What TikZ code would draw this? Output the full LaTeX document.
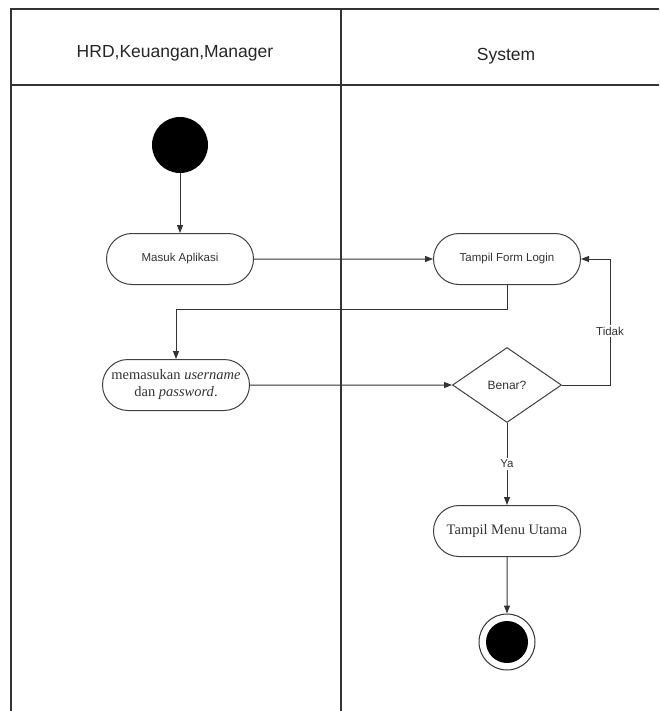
\documentclass[tikz,border=0pt]{standalone}
\usepackage{fontspec}
\setmainfont{Liberation Serif}
\newfontfamily\arialfont{Liberation Sans}
\usetikzlibrary{arrows.meta,shapes.geometric,shapes.misc}
\begin{document}
\begin{tikzpicture}[x=1pt,y=-1pt,
  ln/.style={draw=black!80, line width=1.1pt},
  flow/.style={draw=black!80, line width=1pt, -{Triangle[length=8pt,width=6pt]}},
  act/.style={draw=black!75, line width=1pt, rounded rectangle, minimum width=151pt, minimum height=51pt, inner sep=2pt, align=center, text=black!80},
  dec/.style={draw=black!75, line width=1pt, diamond, minimum width=109pt, minimum height=75pt, inner sep=0pt, aspect=1.45, text=black!80},
  lbl/.style={fill=white, inner sep=1.5pt, text=black!80, font=\arialfont\fontsize{11.5}{13}\selectfont}]
\useasboundingbox (0,0) rectangle (659,711);
% frame
\draw[ln] (11,711) -- (11,9) -- (659,9);
\draw[ln] (11,85) -- (659,85);
\draw[draw=black!80, line width=2pt] (341,9) -- (341,711);
% headers
\node[font=\arialfont\fontsize{17.5}{20}\selectfont, text=black!85] (h1) at (175,53) {HRD,Keuangan,Manager};
\node[font=\arialfont\fontsize{17.5}{20}\selectfont, text=black!85] (h2) at (506,56) {System};
% nodes
\node[circle, fill=black, minimum size=56pt, inner sep=0pt] (start) at (180,145) {};
\node[act, font=\arialfont\fontsize{11.5}{13}\selectfont] (masuk) at (180,259) {Masuk Aplikasi};
\node[act, font=\arialfont\fontsize{11.5}{13}\selectfont] (form) at (507,259) {Tampil Form Login};
\node[act, font=\fontsize{14.5}{17}\selectfont] (input) at (176,385) {memasukan \textit{username}\\dan \textit{password}.};
\node[dec, font=\arialfont\fontsize{12}{14}\selectfont] (benar) at (507,385) {Benar?};
\node[act, font=\fontsize{14.5}{17}\selectfont] (menu) at (507,531) {Tampil Menu Utama};
\node[circle, draw=black!80, line width=1pt, minimum size=56pt, inner sep=0pt] (end) at (507,642) {};
\node[circle, fill=black, minimum size=42pt, inner sep=0pt] (endin) at (507,642) {};
\coordinate (c1) at (507,309);
\coordinate (c2) at (176,309);
\coordinate (c3) at (610,385);
\coordinate (c4) at (610,259);
% connectors
\draw[flow] (start) -- (masuk);
\draw[flow] (masuk) -- (form);
\draw[flow] (form.south) -- (c1) -- (c2) -- (input.north);
\draw[flow] (input) -- (benar);
\draw[flow] (benar.east) -- (c3) -- (c4) -- (form.east);
\node[lbl] (tidak) at (610,331) {Tidak};
\draw[flow] (benar.south) -- (menu.north);
\node[lbl] (ya) at (507,464) {Ya};
\draw[flow] (menu) -- (end);
\end{tikzpicture}
\end{document}
